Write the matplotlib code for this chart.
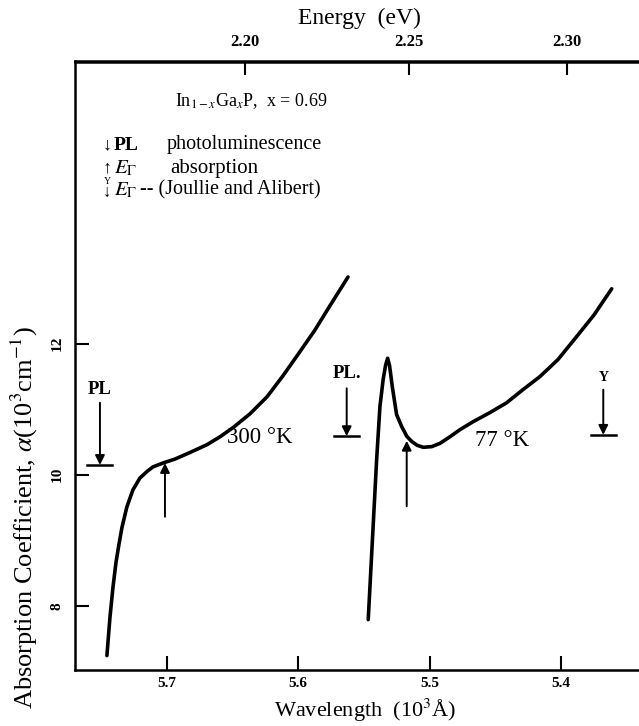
import numpy as np
import matplotlib
matplotlib.use("Agg")
import matplotlib.pyplot as plt

# absorption curves (wavelength in 10^3 A, alpha in 10^3 cm^-1)
wl_300 = [5.7457, 5.7434, 5.7411, 5.7388, 5.7366, 5.7343, 5.7305, 5.7259,
          5.7206, 5.7152, 5.7107, 5.7030, 5.6939, 5.6825, 5.6695, 5.6596,
          5.6497, 5.6368, 5.6238, 5.6117, 5.5987, 5.5873, 5.5759, 5.5621]
a_300 = [7.24, 7.82, 8.28, 8.66, 8.93, 9.19, 9.51, 9.77,
         9.95, 10.05, 10.12, 10.18, 10.24, 10.34, 10.46, 10.58,
         10.72, 10.93, 11.19, 11.51, 11.88, 12.21, 12.58, 13.02]

wl_77 = [5.5467, 5.5403, 5.5378, 5.5353, 5.5334, 5.5319, 5.5304, 5.5284,
         5.5251, 5.5213, 5.5174, 5.5136, 5.5094, 5.5048, 5.4984, 5.4921,
         5.4845, 5.4768, 5.4669, 5.4540, 5.4413, 5.4289, 5.4159, 5.4022,
         5.3880, 5.3748, 5.3613]
a_77 = [7.79, 10.23, 11.04, 11.46, 11.68, 11.78, 11.66, 11.35,
        10.92, 10.74, 10.59, 10.51, 10.45, 10.42, 10.43, 10.48,
        10.58, 10.69, 10.81, 10.95, 11.10, 11.30, 11.50, 11.76,
        12.11, 12.44, 12.84]

# markers: PL positions (300K, 77K), absorption edge E_Gamma (300K, 77K), Joullie & Alibert
pl_wl = [5.7510, 5.5631]
pl_top = [11.10, 11.32]
pl_base = [10.15, 10.59]
pl_labels = ["PL", "PL."]
pl_label_y = [11.30, 11.55]

abs_wl = [5.7015, 5.5174]
abs_tip = [10.18, 10.52]
abs_tail = [9.36, 9.52]

ja_wl = 5.3677
ja_top = 11.30
ja_base = 10.61
ja_label_y = 11.48

temp_labels = ["300 °K", "77 °K"]
temp_wl = [5.6292, 5.4451]
temp_y = [10.57, 10.53]

wl_ticks = [5.7, 5.6, 5.5, 5.4]
wl_ticklabels = ["5.7", "5.6", "5.5", "5.4"]
a_ticks = [8, 10, 12]
a_ticklabels = ["8", "10", "12"]
e_ticks = [2.20, 2.25, 2.30]
e_ticklabels = ["2.20", "2.25", "2.30"]
K = 12.41  # eV * 10^3 A used by the original energy scale

plt.rcParams["font.family"] = ["Liberation Serif", "DejaVu Serif"]
plt.rcParams["mathtext.fontset"] = "stix"

W, H = 639, 726
fig = plt.figure(figsize=(W / 100, H / 100), dpi=100)
ax = fig.add_axes([75 / W, 56 / H, 564 / W, 608.5 / H])


def fx(x, y):
    return x / W, 1 - y / H


ax.plot(wl_300, a_300, color="black", lw=2.6, solid_capstyle="round", solid_joinstyle="round")
ax.plot(wl_77, a_77, color="black", lw=2.6, solid_capstyle="round", solid_joinstyle="round")

arrow = dict(arrowstyle="-|>", color="black", lw=1.4, mutation_scale=14,
             shrinkA=0, shrinkB=0)
hw = 0.0095
for wl, top, base, lab, ly in zip(pl_wl, pl_top, pl_base, pl_labels, pl_label_y):
    ax.annotate("", xy=(wl, base), xytext=(wl, top), arrowprops=arrow)
    ax.plot([wl - hw, wl + hw], [base, base], color="black", lw=1.8)
    ax.text(wl, ly, lab, ha="center", va="center", fontsize=13.5, fontweight="bold")

for wl, tip, tail in zip(abs_wl, abs_tip, abs_tail):
    ax.annotate("", xy=(wl, tip), xytext=(wl, tail), arrowprops=arrow)

ax.annotate("", xy=(ja_wl, ja_base), xytext=(ja_wl, ja_top), arrowprops=arrow)
ax.plot([ja_wl - hw, ja_wl + hw], [ja_base, ja_base], color="black", lw=1.8)
ax.text(ja_wl, ja_label_y, "Y", ha="center", va="center", fontsize=10, fontweight="bold")

for lab, wl, y in zip(temp_labels, temp_wl, temp_y):
    ax.text(wl, y, lab, ha="center", va="center", fontsize=16.5)

ax.set_xlim(5.770, 5.3405)
ax.set_ylim(7.02, 16.31)
ax.set_xticks(wl_ticks)
ax.set_xticklabels(wl_ticklabels, fontweight="bold")
ax.set_yticks(a_ticks)
ax.set_yticklabels(a_ticklabels, rotation=90, va="center", fontweight="bold")
ax.tick_params(direction="in", length=10, width=1.5, labelsize=11)
ax.tick_params(axis="x", pad=5)
ax.tick_params(axis="y", pad=8)
ax.spines["right"].set_visible(False)
for s in ["left", "top", "bottom"]:
    ax.spines[s].set_linewidth(1.8)

sec = ax.secondary_xaxis("top", functions=(lambda l: K / l, lambda e: K / e))
sec.set_xticks(e_ticks)
sec.set_xticklabels(e_ticklabels, fontweight="bold")
sec.tick_params(direction="in", length=10, width=1.5, labelsize=12, pad=8)
sec.spines["top"].set_linewidth(1.8)

fig.text(*fx(359, 18), "Energy  (eV)", ha="center", va="center", fontsize=17)
fig.text(*fx(365, 710), "Wavelength  (10$^3$Å)", ha="center", va="center", fontsize=16)
fig.text(*fx(24, 517), r"Absorption Coefficient, $\alpha$(10$^3$cm$^{-1}$)",
         ha="center", va="center", rotation=90, fontsize=19)

# key block
fig.text(*fx(175, 101), r"In$_{1-x}$Ga$_x$P,  x = 0.69", ha="left", va="center", fontsize=13)
fig.text(*fx(103, 145), "↓", ha="left", va="center", fontsize=13)
fig.text(*fx(114, 145), "PL", ha="left", va="center", fontsize=14, fontweight="bold")
fig.text(*fx(167, 145), "photoluminescence", ha="left", va="center", fontsize=14.5)
fig.text(*fx(103, 168), "↑", ha="left", va="center", fontsize=13)
fig.text(*fx(114, 168), r"$E_\Gamma$", ha="left", va="center", fontsize=15)
fig.text(*fx(170, 168), "absorption", ha="left", va="center", fontsize=15)
fig.text(*fx(103, 193), "↓", ha="left", va="center", fontsize=12)
fig.text(*fx(104, 181), "Y", ha="left", va="center", fontsize=7)
fig.text(*fx(114, 190), r"$E_\Gamma$", ha="left", va="center", fontsize=15)
fig.text(*fx(140, 190), "-- (Joullie and Alibert)", ha="left", va="center", fontsize=14.5)

fig.savefig("out.png", dpi=100)
